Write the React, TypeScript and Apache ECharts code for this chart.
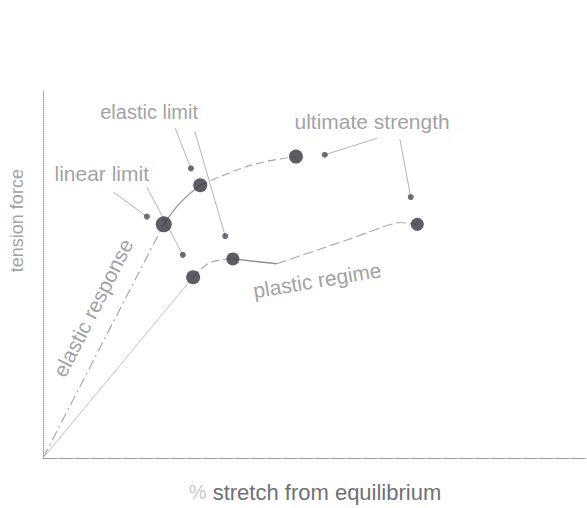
import React, { useEffect, useRef } from "react";
import * as echarts from "echarts";

const FONT = "'Liberation Sans', Arial, Helvetica, sans-serif";
const TEXT_COLOR = "#88888e";
const LINE_COLOR = "#a9a9ad";
const DOT_COLOR = "#34343f";

// elastic response line: origin -> linear limit
const elasticX = [0, 22.2];
const elasticY = [0, 63.5];
// upper curve: linear limit -> elastic limit (solid)
const upperSolidX = [22.2, 25.2, 28.9];
const upperSolidY = [63.5, 69.3, 74.1];
// upper curve: elastic limit -> ultimate strength (dashed)
const upperDashX = [28.9, 38.1, 46.5];
const upperDashY = [74.1, 79.5, 81.9];
// second loading line: origin -> lower first point
const lowerStartX = [0, 27.6];
const lowerStartY = [0, 49.1];
// plastic regime curve
const lowerAX = [27.6, 30.7, 34.9];
const lowerAY = [49.1, 53.1, 54.1];
const lowerBX = [34.9, 43.0];
const lowerBY = [54.1, 52.8];
const lowerCX = [43.0, 56.4, 65.6, 68.8];
const lowerCY = [52.8, 59.5, 64.0, 63.5];

// big dots
const dotX = [22.2, 28.9, 46.5, 27.6, 34.9, 68.8];
const dotY = [63.5, 74.1, 81.9, 49.1, 54.1, 63.5];
const dotSize = [16, 14, 14, 14, 13, 13];

// leader lines: start -> arrow tip
const leaderStartX = [12.9, 19.1, 24.3, 27.9, 61.4, 65.6];
const leaderStartY = [72.3, 73.6, 89.6, 88.8, 86.9, 86.7];
const tipX = [19.1, 25.7, 27.2, 33.5, 51.8, 67.6];
const tipY = [65.6, 55.2, 78.7, 60.3, 82.4, 70.9];

// annotation texts
const textLabels = ["linear limit", "elastic limit", "ultimate strength", "plastic regime", "elastic response", "tension force"];
const textX = [10.8, 19.5, 60.5, 50.4, 9.2, -4.8];
const textY = [77.3, 93.9, 91.5, 48.3, 40.8, 64.5];
const textRotate = [0, 0, 0, 9.5, 63, 90];
const textSize = [21, 20, 21, 21, 21, 18];

const xAxisTitle = "stretch from equilibrium";

const pairs = (xs: number[], ys: number[]) => xs.map((x, i) => [x, ys[i]]);

function lineSeries(xs: number[], ys: number[], type: any, width: number, color: string, smooth: number | boolean) {
  return {
    type: "line",
    data: pairs(xs, ys),
    symbol: "none",
    smooth,
    silent: true,
    lineStyle: { color, width, type },
    z: 2,
  };
}

export default function App() {
  const ref = useRef<HTMLDivElement>(null);
  useEffect(() => {
    if (!ref.current) return;
    const chart = echarts.init(ref.current, null, { renderer: "svg" });

    const leaders = leaderStartX.map((x, i) =>
      lineSeries([x, tipX[i]], [leaderStartY[i], tipY[i]], "solid", 1, "#b4b4b8", false)
    );

    chart.setOption({
      animation: false,
      backgroundColor: "#ffffff",
      grid: { left: 43, top: 90, width: 544, height: 373 },
      xAxis: {
        type: "value",
        min: 0,
        max: 100,
        offset: 4,
        axisLine: { show: true, lineStyle: { color: "#9a9aa0", width: 1.2, type: [14, 2] } },
        axisTick: { show: false },
        axisLabel: { show: false },
        splitLine: { show: false },
        name: "{p|%} " + xAxisTitle,
        nameLocation: "middle",
        nameGap: 19,
        nameTextStyle: {
          fontFamily: FONT,
          fontSize: 22,
          color: "#707076",
          rich: { p: { fontFamily: FONT, fontSize: 20, color: "#c8c8cc" } },
        },
      },
      yAxis: {
        type: "value",
        min: 0,
        max: 100,
        offset: 1,
        axisLine: { show: true, lineStyle: { color: "#9a9aa0", width: 1, type: "dotted" } },
        axisTick: { show: false },
        axisLabel: { show: false },
        splitLine: { show: false },
      },
      series: [
        lineSeries(elasticX, elasticY, [10, 4, 2, 4], 1.2, LINE_COLOR, false),
        lineSeries(upperSolidX, upperSolidY, "solid", 1.3, "#9c9ca2", 0.4),
        lineSeries(upperDashX, upperDashY, [8, 4], 1.2, LINE_COLOR, 0.4),
        lineSeries(lowerStartX, lowerStartY, "solid", 1, "#c2c2c6", false),
        lineSeries(lowerAX, lowerAY, [8, 4], 1.2, LINE_COLOR, 0.4),
        lineSeries(lowerBX, lowerBY, "solid", 1.4, "#8e8e96", 0.3),
        lineSeries(lowerCX, lowerCY, [10, 4], 1.2, LINE_COLOR, 0.15),
        ...leaders,
        {
          type: "scatter",
          data: pairs(tipX, tipY),
          symbolSize: 6,
          silent: true,
          itemStyle: { color: "#4a4a55" },
          z: 4,
        },
        {
          type: "scatter",
          data: dotX.map((x, i) => ({ value: [x, dotY[i]], symbolSize: dotSize[i] })),
          silent: true,
          itemStyle: { color: DOT_COLOR },
          z: 5,
        },
        {
          type: "scatter",
          clip: false,
          silent: true,
          symbolSize: 1,
          itemStyle: { color: "rgba(0,0,0,0)" },
          data: textLabels.map((t, i) => ({
            name: t,
            value: [textX[i], textY[i]],
            label: { rotate: textRotate[i], fontSize: textSize[i] },
          })),
          label: {
            show: true,
            position: "inside",
            formatter: "{b}",
            align: "center",
            verticalAlign: "middle",
            fontFamily: FONT,
            color: TEXT_COLOR,
          },
          z: 6,
        },
      ],
    });
    return () => chart.dispose();
  }, []);
  return <div ref={ref} style={{ position: "fixed", left: 0, top: 0, width: 587, height: 508, background: "#fff" }} />;
}
